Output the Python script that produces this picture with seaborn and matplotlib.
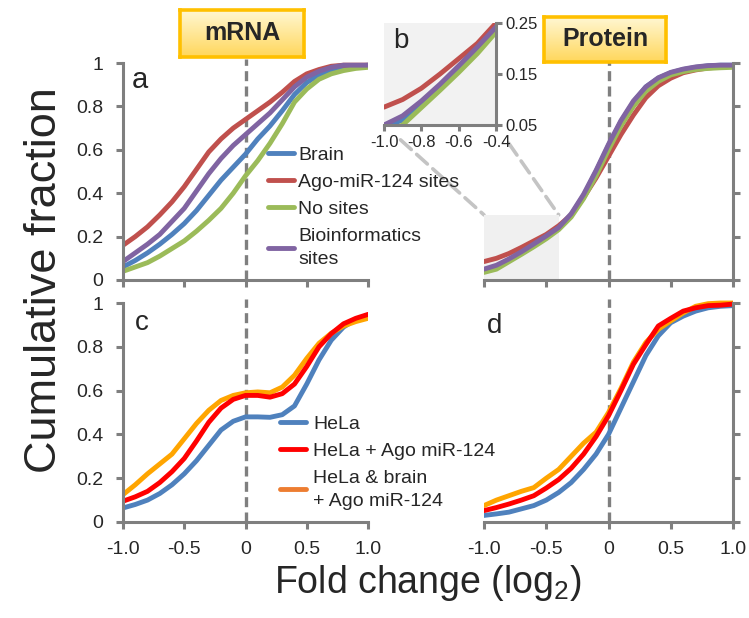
import numpy as np
import pandas as pd
import matplotlib
matplotlib.use("Agg")
import matplotlib.pyplot as plt
import seaborn as sns
from matplotlib.lines import Line2D
from matplotlib.patches import Rectangle, ConnectionPatch
from matplotlib.colors import LinearSegmentedColormap

###### Data
fold = [-1.0, -0.9, -0.8, -0.7, -0.6, -0.5, -0.4, -0.3, -0.2, -0.1, 0.0,
        0.1, 0.2, 0.3, 0.4, 0.5, 0.6, 0.7, 0.8, 0.9, 1.0]

top_series = ["Brain", "Ago-miR-124 sites", "No sites", "Bioinformatics\nsites"]
top_colors = ["#4f81bd", "#c0504d", "#9bbb59", "#8064a2"]

mrna_brain = [0.06, 0.09, 0.125, 0.165, 0.21, 0.26, 0.32, 0.39, 0.46, 0.52, 0.58,
              0.65, 0.71, 0.78, 0.855, 0.91, 0.945, 0.965, 0.978, 0.985, 0.99]
mrna_ago = [0.16, 0.20, 0.245, 0.30, 0.36, 0.43, 0.51, 0.59, 0.65, 0.70, 0.74,
            0.78, 0.82, 0.865, 0.915, 0.95, 0.97, 0.985, 0.99, 0.99, 0.99]
mrna_none = [0.04, 0.06, 0.08, 0.11, 0.145, 0.18, 0.225, 0.275, 0.33, 0.40, 0.48,
             0.55, 0.63, 0.72, 0.82, 0.88, 0.925, 0.95, 0.965, 0.975, 0.98]
mrna_bioinf = [0.085, 0.125, 0.165, 0.21, 0.27, 0.33, 0.41, 0.49, 0.56, 0.62, 0.67,
               0.72, 0.77, 0.83, 0.89, 0.935, 0.962, 0.98, 0.99, 0.99, 0.99]

prot_brain = [0.045, 0.06, 0.092, 0.125, 0.162, 0.20, 0.24, 0.30, 0.39, 0.50, 0.62,
              0.73, 0.82, 0.89, 0.93, 0.955, 0.97, 0.98, 0.987, 0.99, 0.99]
prot_ago = [0.085, 0.10, 0.122, 0.15, 0.18, 0.21, 0.25, 0.30, 0.38, 0.47, 0.57,
            0.67, 0.76, 0.84, 0.895, 0.93, 0.955, 0.968, 0.977, 0.982, 0.985]
prot_none = [0.035, 0.05, 0.084, 0.118, 0.153, 0.19, 0.232, 0.29, 0.375, 0.48, 0.60,
             0.71, 0.80, 0.87, 0.915, 0.945, 0.96, 0.97, 0.975, 0.978, 0.98]
prot_bioinf = [0.05, 0.068, 0.097, 0.13, 0.166, 0.203, 0.242, 0.305, 0.395, 0.505, 0.625,
               0.735, 0.825, 0.89, 0.932, 0.957, 0.972, 0.982, 0.988, 0.99, 0.99]

hela_series = ["HeLa", "HeLa + Ago miR-124", "HeLa & brain\n+ Ago miR-124"]
hela_colors = ["#4f81bd", "#ff0000", "#ffa500"]
hela_handle_colors = ["#4f81bd", "#ff0000", "#ed7d31"]

hela_mrna = [0.064, 0.08, 0.10, 0.13, 0.17, 0.22, 0.28, 0.35, 0.42, 0.46, 0.48,
             0.48, 0.478, 0.49, 0.53, 0.63, 0.74, 0.83, 0.89, 0.925, 0.945]
hela_ago_mrna = [0.095, 0.115, 0.14, 0.18, 0.23, 0.29, 0.37, 0.455, 0.52, 0.56, 0.578,
                 0.578, 0.57, 0.586, 0.63, 0.71, 0.80, 0.86, 0.905, 0.93, 0.948]
hela_brain_mrna = [0.125, 0.17, 0.22, 0.265, 0.31, 0.38, 0.45, 0.51, 0.555, 0.578, 0.59,
                   0.594, 0.59, 0.616, 0.67, 0.747, 0.816, 0.862, 0.895, 0.915, 0.93]

hela_prot = [0.03, 0.037, 0.045, 0.06, 0.075, 0.10, 0.135, 0.18, 0.24, 0.31, 0.40,
             0.52, 0.64, 0.76, 0.85, 0.91, 0.94, 0.963, 0.978, 0.985, 0.988]
hela_ago_prot = [0.052, 0.066, 0.082, 0.10, 0.12, 0.155, 0.194, 0.245, 0.31, 0.39, 0.485,
                 0.60, 0.72, 0.81, 0.895, 0.93, 0.963, 0.978, 0.988, 0.99, 0.995]
hela_brain_prot = [0.075, 0.10, 0.12, 0.14, 0.157, 0.20, 0.24, 0.30, 0.36, 0.41, 0.50,
                   0.61, 0.73, 0.82, 0.88, 0.918, 0.955, 0.985, 0.997, 1.0, 1.0]

yticks = [0, 0.2, 0.4, 0.6, 0.8, 1.0]
ytick_labels = ["0", "0.2", "0.4", "0.6", "0.8", "1"]
xticks = [-1.0, -0.5, 0, 0.5, 1.0]
xtick_labels = ["-1.0", "-0.5", "0", "0.5", "1.0"]
inset_xticks = [-1.0, -0.8, -0.6, -0.4]
inset_xtick_labels = ["-1.0", "-0.8", "-0.6", "-0.4"]
inset_yticks = [0.05, 0.15, 0.25]
inset_ytick_labels = ["0.05", "0.15", "0.25"]


def long_frame(names, columns):
    parts = [pd.DataFrame({"fold": fold, "frac": vals, "series": name})
             for name, vals in zip(names, columns)]
    return pd.concat(parts, ignore_index=True)


df_mrna = long_frame(top_series, [mrna_brain, mrna_ago, mrna_none, mrna_bioinf])
df_prot = long_frame(top_series, [prot_brain, prot_ago, prot_none, prot_bioinf])
df_hela_mrna = long_frame(hela_series, [hela_mrna, hela_ago_mrna, hela_brain_mrna])
df_hela_prot = long_frame(hela_series, [hela_prot, hela_ago_prot, hela_brain_prot])

###### Style
sns.set_theme(style="white")
plt.rcParams["font.family"] = ["Liberation Sans", "DejaVu Sans"]
plt.rcParams["mathtext.fontset"] = "custom"
plt.rcParams["mathtext.rm"] = "Liberation Sans"
plt.rcParams["mathtext.default"] = "regular"
plt.rcParams["axes.unicode_minus"] = False

GREY = "#7f7f7f"
W, H = 749, 618
fig = plt.figure(figsize=(W / 100, H / 100), dpi=100)
fig.patch.set_facecolor("white")


def px_axes(x0, x1, y_top, y_bot):
    return fig.add_axes([x0 / W, 1 - y_bot / H, (x1 - x0) / W, (y_bot - y_top) / H])


def ftext(x, y, s, **kw):
    return fig.text(x / W, 1 - y / H, s, **kw)


def style_panel(ax, right=False, xlabels=False, ylabels=False):
    ax.set_facecolor("none")
    ax.set_xlim(-1, 1)
    ax.set_ylim(0, 1.02)
    ax.set_xlabel("")
    ax.set_ylabel("")
    side = "right" if right else "left"
    for name, sp in ax.spines.items():
        sp.set_visible(name in ("bottom", side))
        sp.set_color(GREY)
        sp.set_linewidth(2.2)
    ax.spines[side].set_bounds(0, 1)
    if right:
        ax.yaxis.tick_right()
    ax.set_xticks(xticks)
    ax.set_yticks(yticks)
    ax.set_xticklabels(xtick_labels if xlabels else [])
    ax.set_yticklabels(ytick_labels if ylabels else [])
    ax.tick_params(direction="out", length=5, width=2.2, color=GREY,
                   labelsize=14, pad=9, bottom=True, left=not right, right=right)
    ax.axvline(0, color=GREY, lw=2.4, ls=(0, (3, 1.6)), zorder=1)


def draw(ax, frame, order, palette):
    sns.lineplot(data=frame, x="fold", y="frac", hue="series", hue_order=order,
                 palette=palette, lw=3.5, ax=ax, legend=False)


# panel positions in pixels
ax_a = px_axes(123, 368, 280 - 1.02 * 217, 280)
ax_p = px_axes(484, 733, 280 - 1.02 * 217, 280)
ax_c = px_axes(123, 368, 522 - 1.02 * 219, 522)
ax_d = px_axes(484, 733, 522 - 1.02 * 219, 522)
ax_b = px_axes(384, 496, 23, 125)

draw(ax_a, df_mrna, top_series, top_colors)
draw(ax_p, df_prot, top_series, top_colors)
draw(ax_c, df_hela_mrna, [hela_series[0], hela_series[2], hela_series[1]],
     [hela_colors[0], hela_colors[2], hela_colors[1]])
draw(ax_d, df_hela_prot, [hela_series[0], hela_series[2], hela_series[1]],
     [hela_colors[0], hela_colors[2], hela_colors[1]])
draw(ax_b, df_prot, top_series, top_colors)

style_panel(ax_a, ylabels=True)
style_panel(ax_p, right=True)
style_panel(ax_c, xlabels=True, ylabels=True)
style_panel(ax_d, right=True, xlabels=True)

# grey zoom region in protein panel
ax_p.add_patch(Rectangle((-1.0, 0), 0.6, 0.3, facecolor="#f0f0f0",
                         edgecolor="none", zorder=0))

# inset b
ax_b.set_facecolor("#f2f2f2")
ax_b.set_xlim(-1.0, -0.4)
ax_b.set_ylim(0.05, 0.25)
ax_b.set_xlabel("")
ax_b.set_ylabel("")
for name, sp in ax_b.spines.items():
    sp.set_visible(name in ("bottom", "right"))
    sp.set_color(GREY)
    sp.set_linewidth(2.2)
ax_b.yaxis.tick_right()
ax_b.set_xticks(inset_xticks)
ax_b.set_xticklabels(inset_xtick_labels)
ax_b.set_yticks(inset_yticks)
ax_b.set_yticklabels(inset_ytick_labels)
ax_b.tick_params(direction="out", length=4, width=2.2, color=GREY, labelsize=12,
                 pad=3, bottom=True, left=False, right=True)

# dashed connectors from the inset to the shaded region
for xv in (-1.0, -0.4):
    con = ConnectionPatch(xyA=(xv, 0.05), coordsA=ax_b.transData,
                          xyB=(xv, 0.3), coordsB=ax_p.transData,
                          color="#c4c4c4", lw=2.6, ls=(0, (4, 2)),
                          shrinkA=16, shrinkB=0, zorder=-1)
    fig.add_artist(con)

# legends
top_handles = [Line2D([], [], color=c, lw=3.5) for c in top_colors]
leg_a = ax_a.legend(top_handles, top_series, loc="upper left", frameon=False, fontsize=14,
                    bbox_to_anchor=(268 / W, 1 - 146 / H), bbox_transform=fig.transFigure,
                    handlelength=1.35, handletextpad=0.2, labelspacing=0.5,
                    borderpad=0, borderaxespad=0)
for t in leg_a.get_texts():
    t.set_linespacing(1.45)
hela_handles = [Line2D([], [], color=c, lw=3.5) for c in hela_handle_colors]
leg_c = ax_c.legend(hela_handles, hela_series, loc="upper left", frameon=False, fontsize=14,
                    bbox_to_anchor=(280 / W, 1 - 415 / H), bbox_transform=fig.transFigure,
                    handlelength=1.35, handletextpad=0.35, labelspacing=0.5,
                    borderpad=0, borderaxespad=0)
for t in leg_c.get_texts():
    t.set_linespacing(1.45)

# panel letters
ftext(132, 88, "a", fontsize=21, va="baseline")
ftext(393, 48, "b", fontsize=20, va="baseline")
ftext(135, 330, "c", fontsize=20, va="baseline")
ftext(487, 333, "d", fontsize=20, va="baseline")

# title boxes
grad_cmap = LinearSegmentedColormap.from_list("box", ["#fff7d2", "#ffd75c"])


def title_box(x0, x1, y_top, y_bot, text):
    bax = px_axes(x0, x1, y_top, y_bot)
    bax.imshow(np.linspace(0, 1, 64).reshape(-1, 1), aspect="auto", cmap=grad_cmap,
               extent=[0, 1, 0, 1])
    bax.set_xticks([])
    bax.set_yticks([])
    for sp in bax.spines.values():
        sp.set_visible(True)
        sp.set_color("#ffc000")
        sp.set_linewidth(2.6)
    bax.text(0.5, 0.5, text, ha="center", va="center", fontsize=18,
             fontweight="bold", transform=bax.transAxes)


title_box(180, 304, 10, 57, "mRNA")
title_box(544, 666, 17, 62, "Protein")

# shared axis labels
ftext(45, 280, "Cumulative fraction", rotation=90, fontsize=32.5, ha="center", va="center")
ftext(428, 583, "Fold change (log$_2$)", fontsize=27, ha="center", va="center")

fig.savefig("out.png", dpi=100, facecolor="white")
